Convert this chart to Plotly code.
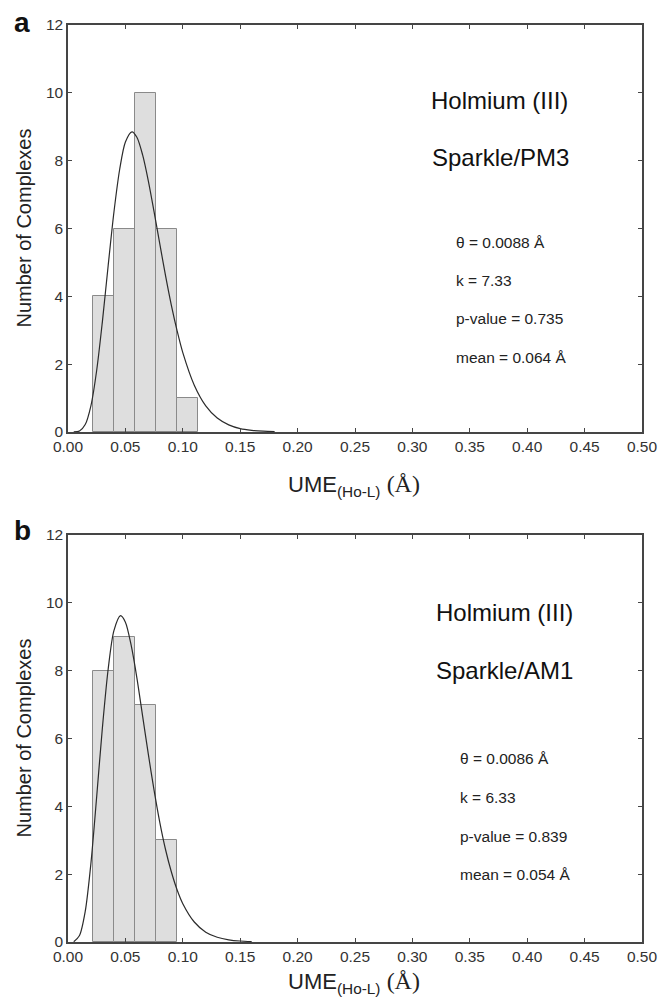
import plotly.graph_objects as go

# ---------------- data ----------------
bin_edges = [0.0218, 0.0401, 0.0585, 0.0768, 0.0952, 0.1135]
counts_a = [4, 6, 10, 6, 1]
counts_b = [8, 9, 7, 3]

curve_x_a = [0.005, 0.01, 0.015, 0.02, 0.025, 0.03, 0.035, 0.04, 0.045, 0.05, 0.0557,
             0.06, 0.065, 0.07, 0.075, 0.08, 0.085, 0.09, 0.095, 0.10, 0.11, 0.12,
             0.13, 0.14, 0.15, 0.16, 0.17, 0.18]
curve_y_a = [0.001, 0.03, 0.22, 0.78, 1.82, 3.27, 4.91, 6.48, 7.74, 8.55, 8.85,
             8.69, 8.17, 7.40, 6.49, 5.54, 4.60, 3.74, 2.99, 2.34, 1.38, 0.77,
             0.41, 0.21, 0.10, 0.05, 0.024, 0.011]

curve_x_b = [0.005, 0.01, 0.015, 0.02, 0.025, 0.03, 0.035, 0.04, 0.0458, 0.05, 0.055,
             0.06, 0.065, 0.07, 0.075, 0.08, 0.085, 0.09, 0.095, 0.10, 0.11, 0.12,
             0.13, 0.14, 0.15, 0.16]
curve_y_b = [0.008, 0.19, 0.90, 2.33, 4.29, 6.33, 8.05, 9.18, 9.62, 9.43, 8.75,
             7.79, 6.66, 5.53, 4.47, 3.52, 2.72, 2.07, 1.54, 1.13, 0.59, 0.29,
             0.14, 0.065, 0.029, 0.013]

x_ticks = [0.00, 0.05, 0.10, 0.15, 0.20, 0.25, 0.30, 0.35, 0.40, 0.45, 0.50]
x_tick_labels = ["0.00", "0.05", "0.10", "0.15", "0.20", "0.25", "0.30", "0.35", "0.40", "0.45", "0.50"]
y_ticks = [0, 2, 4, 6, 8, 10, 12]

panel_letters = ["a", "b"]
element_label = "Holmium (III)"
method_labels = ["Sparkle/PM3", "Sparkle/AM1"]
stats_a = ["θ = 0.0088 Å", "k = 7.33", "p-value = 0.735", "mean = 0.064 Å"]
stats_b = ["θ = 0.0086 Å", "k = 6.33", "p-value = 0.839", "mean = 0.054 Å"]

# ---------------- figure ----------------
W, H = 659, 1002
ML, MR, MT, MB = 68, 17, 25, 60
plot_h = H - MT - MB
dom_a = [1 - (432 - 25) / plot_h, 1.0]
dom_b = [0.0, 1 - (535 - 25) / plot_h]

fig = go.Figure()

AXC = "#454545"
BAR_FILL = "#dedede"
BAR_LINE = "#8a8a8a"
CURVE = "#2b2b2b"
SANS = "Liberation Sans, Arial, sans-serif"

def add_panel(counts, cx, cy, xa, ya):
    n = len(counts)
    centers = [(bin_edges[i] + bin_edges[i + 1]) / 2 for i in range(n)]
    widths = [bin_edges[i + 1] - bin_edges[i] for i in range(n)]
    fig.add_trace(go.Bar(x=centers, y=counts, width=widths,
                         marker=dict(color=BAR_FILL, line=dict(color=BAR_LINE, width=1)),
                         xaxis=xa, yaxis=ya, showlegend=False))
    fig.add_trace(go.Scatter(x=cx, y=cy, mode="lines",
                             line=dict(color=CURVE, width=1.2, shape="spline", smoothing=0.8),
                             xaxis=xa, yaxis=ya, showlegend=False))

add_panel(counts_a, curve_x_a, curve_y_a, "x", "y")
add_panel(counts_b, curve_x_b, curve_y_b, "x2", "y2")

tickfont = dict(family=SANS, size=15.5, color="#333333")
xaxis_common = dict(range=[0, 0.5], tickvals=x_ticks, ticktext=x_tick_labels,
                    showline=True, linecolor=AXC, linewidth=1.5, mirror="ticks",
                    ticks="inside", ticklen=4, tickcolor=AXC, tickwidth=1,
                    showgrid=False, zeroline=False, tickfont=tickfont, fixedrange=True,
                    automargin=False)
yaxis_common = dict(range=[0, 12], tickvals=y_ticks,
                    showline=True, linecolor=AXC, linewidth=1.5, mirror="ticks",
                    ticks="inside", ticklen=4, tickcolor=AXC, tickwidth=1,
                    showgrid=False, zeroline=False, tickfont=tickfont, fixedrange=True,
                    automargin=False)

fig.update_layout(
    width=W, height=H,
    margin=dict(l=ML, r=MR, t=MT, b=MB, autoexpand=False),
    paper_bgcolor="white", plot_bgcolor="white",
    bargap=0, showlegend=False,
    xaxis=dict(domain=[0, 1], anchor="y", **xaxis_common),
    yaxis=dict(domain=dom_a, anchor="x", **yaxis_common),
    xaxis2=dict(domain=[0, 1], anchor="y2", **xaxis_common),
    yaxis2=dict(domain=dom_b, anchor="x2", **yaxis_common),
)

def px_x(p):
    return (p - ML) / (W - ML - MR)

def px_y(p):
    return 1 - (p - MT) / plot_h

ann = []
xtitle = ("UME<sub>(Ho-L)</sub> <span style='font-family:Liberation Serif, Times New Roman, serif;"
          "font-size:24px'>(Å)</span>")
letter_y = [22, 530]
xtitle_y = [485, 982]
for i, (ytop, ybot) in enumerate([(25, 432), (535, 942)]):
    ann.append(dict(text="<b>%s</b>" % panel_letters[i], x=px_x(22), y=px_y(letter_y[i]),
                    xref="paper", yref="paper", showarrow=False,
                    font=dict(family=SANS, size=28, color="#111111"),
                    xanchor="center", yanchor="middle"))
    ann.append(dict(text="Number of Complexes", x=px_x(23), y=px_y((ytop + ybot) / 2),
                    xref="paper", yref="paper", showarrow=False, textangle=-90,
                    font=dict(family=SANS, size=20, color="#222222"),
                    xanchor="center", yanchor="middle"))
    ann.append(dict(text=xtitle, x=px_x(354), y=px_y(xtitle_y[i]),
                    xref="paper", yref="paper", showarrow=False,
                    font=dict(family=SANS, size=22, color="#222222"),
                    xanchor="center", yanchor="middle"))

big_font = dict(family=SANS, size=24, color="#111111")
small_font = dict(family=SANS, size=15.5, color="#222222")
ann.append(dict(text=element_label, x=px_x(499), y=px_y(100), xref="paper", yref="paper",
                showarrow=False, font=big_font, xanchor="center", yanchor="middle"))
ann.append(dict(text=method_labels[0], x=px_x(500), y=px_y(157), xref="paper", yref="paper",
                showarrow=False, font=big_font, xanchor="center", yanchor="middle"))
for s, yy in zip(stats_a, [242, 280, 318, 357]):
    ann.append(dict(text=s, x=px_x(454), y=px_y(yy), xref="paper", yref="paper",
                    showarrow=False, font=small_font, xanchor="left", yanchor="middle"))

ann.append(dict(text=element_label, x=px_x(504), y=px_y(612), xref="paper", yref="paper",
                showarrow=False, font=big_font, xanchor="center", yanchor="middle"))
ann.append(dict(text=method_labels[1], x=px_x(504), y=px_y(670), xref="paper", yref="paper",
                showarrow=False, font=big_font, xanchor="center", yanchor="middle"))
for s, yy in zip(stats_b, [758, 797, 836, 874]):
    ann.append(dict(text=s, x=px_x(458), y=px_y(yy), xref="paper", yref="paper",
                    showarrow=False, font=small_font, xanchor="left", yanchor="middle"))

fig.update_layout(annotations=ann)

fig.write_html("out.html", config={"displayModeBar": False},
               post_script="document.body.style.margin='0';document.body.style.padding='0';"
                           "document.documentElement.style.overflow='hidden';")
